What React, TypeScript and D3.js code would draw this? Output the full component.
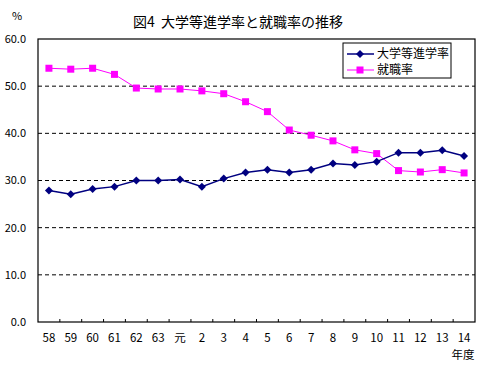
import React from 'react';
import * as d3 from 'd3';

const years = ['58', '59', '60', '61', '62', '63', '元', '2', '3', '4', '5', '6', '7', '8', '9', '10', '11', '12', '13', '14'];
const shingaku = [27.9, 27.1, 28.2, 28.7, 30.0, 30.0, 30.2, 28.7, 30.4, 31.7, 32.3, 31.7, 32.3, 33.6, 33.3, 34.0, 35.9, 35.9, 36.4, 35.2];
const shushoku = [53.8, 53.6, 53.8, 52.5, 49.6, 49.4, 49.4, 49.0, 48.4, 46.7, 44.6, 40.7, 39.6, 38.4, 36.5, 35.7, 32.1, 31.8, 32.3, 31.6];
const yTicks = [0, 10, 20, 30, 40, 50, 60];

const FONT = '"Noto Sans CJK JP", "Noto Sans", sans-serif';
const NAVY = '#000080';
const PINK = '#FF00FF';

export default function App() {
  const width = 483;
  const height = 371;
  const margin = { top: 39, right: 8, bottom: 49, left: 38 };

  const x = d3.scaleBand<string>()
    .domain(years)
    .range([margin.left, width - margin.right]);
  const y = d3.scaleLinear()
    .domain([0, 60])
    .range([height - margin.bottom, margin.top]);

  const cx = (i: number) => (x(years[i]) as number) + x.bandwidth() / 2;
  const line = d3.line<number>()
    .x((_, i) => cx(i))
    .y(d => y(d));

  const diamond = (px: number, py: number, r = 4) =>
    `M${px},${py - r}L${px + r},${py}L${px},${py + r}L${px - r},${py}Z`;

  const left = margin.left;
  const right = width - margin.right;
  const top = margin.top;
  const bottom = height - margin.bottom;

  return (
    <svg width={width} height={height} style={{ position: 'absolute', left: 0, top: 0, background: '#fff' }} fontFamily={FONT}>
      <rect width={width} height={height} fill="#fff" />
      <text x={238} y={27} textAnchor="middle" fontSize={14} style={{ whiteSpace: 'pre' }}>図4  大学等進学率と就職率の推移</text>
      <text x={17} y={20} textAnchor="middle" fontSize={11}>%</text>

      {yTicks.filter(t => t > 0 && t < 60).map(t => (
        <line key={t} x1={left} x2={right} y1={y(t)} y2={y(t)} stroke="#000" strokeDasharray="4,3" />
      ))}
      {yTicks.map(t => (
        <text key={t} x={26} y={y(t)} dy="0.35em" textAnchor="end" fontSize={11}>{t.toFixed(1)}</text>
      ))}

      {years.slice(1).map(c => (
        <line key={c} x1={x(c)} x2={x(c)} y1={bottom} y2={bottom - 3} stroke="#000" />
      ))}
      {years.map(c => (
        <text key={c} x={(x(c) as number) + x.bandwidth() / 2} y={bottom + 20} textAnchor="middle" fontSize={11.5}>{c}</text>
      ))}
      <text x={right - 12} y={bottom + 37} textAnchor="middle" fontSize={11.5}>年度</text>

      <rect x={left} y={top} width={right - left} height={bottom - top} fill="none" stroke="#000" strokeWidth={1.2} />

      <path d={line(shushoku) ?? ''} fill="none" stroke={PINK} strokeWidth={1} />
      {shushoku.map((v, i) => (
        <rect key={i} x={cx(i) - 3.5} y={y(v) - 3.5} width={7} height={7} fill={PINK} />
      ))}
      <path d={line(shingaku) ?? ''} fill="none" stroke={NAVY} strokeWidth={1.5} />
      {shingaku.map((v, i) => (
        <path key={i} d={diamond(cx(i), y(v))} fill={NAVY} />
      ))}

      <g>
        <rect x={343} y={43} width={108} height={35} fill="#fff" stroke="#000" />
        <line x1={347} x2={374} y1={54} y2={54} stroke={NAVY} strokeWidth={1.5} />
        <path d={diamond(360, 54)} fill={NAVY} />
        <text x={377} y={54} dy="0.35em" fontSize={12}>大学等進学率</text>
        <line x1={347} x2={374} y1={70} y2={70} stroke={PINK} />
        <rect x={356.5} y={66.5} width={7} height={7} fill={PINK} />
        <text x={377} y={70} dy="0.35em" fontSize={12}>就職率</text>
      </g>
    </svg>
  );
}
